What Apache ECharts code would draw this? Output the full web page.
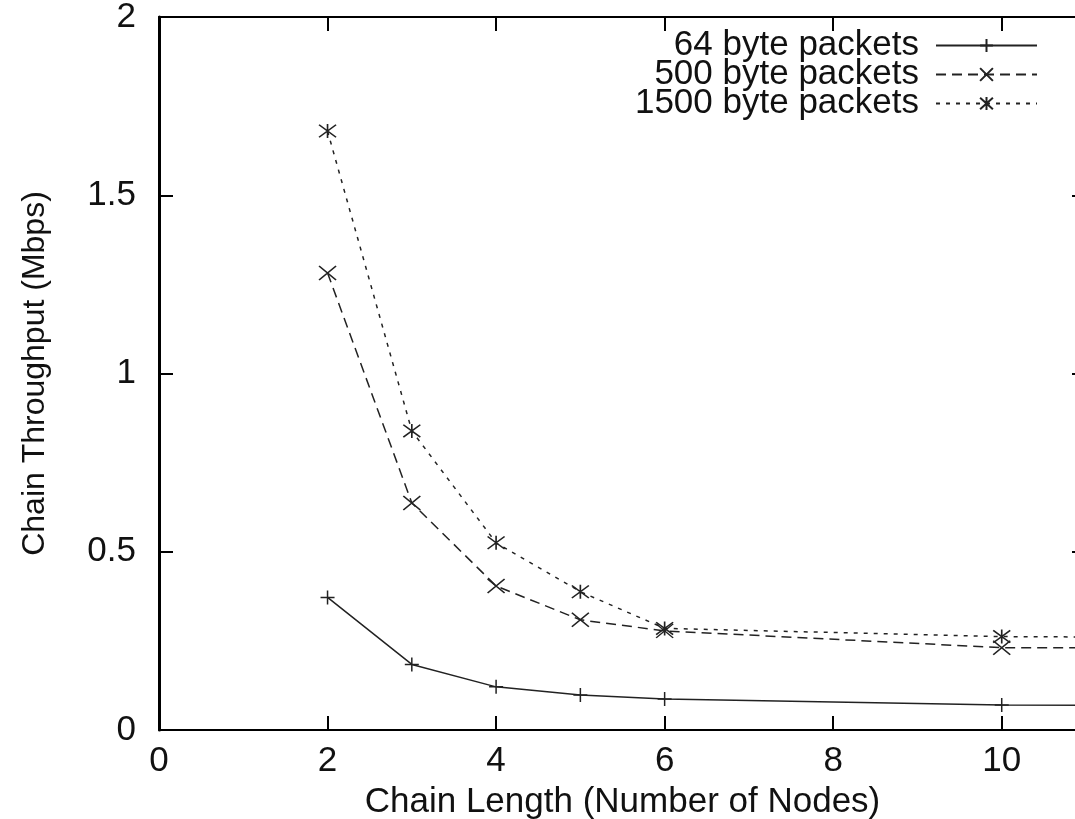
<!DOCTYPE html>
<html>
<head>
<meta charset="utf-8">
<title>Chain Throughput</title>
<script src="https://cdn.jsdelivr.net/npm/echarts@6/dist/echarts.min.js"></script>
<style>
  html, body { margin: 0; padding: 0; background: #fff; overflow: hidden; }
  /* the plot runs a little past the right edge of the window, as in the original */
  .frame { width: 1075px; height: 819px; overflow: hidden; position: relative; }
  #chart { width: 1086px; height: 819px; position: absolute; left: 0; top: 0; }
</style>
</head>
<body>
<div class="frame"><div id="chart"></div></div>
<script>
// chain length (number of nodes); the last point lies past the visible edge
const chainLength = [2, 3, 4, 5, 6, 10, 12]

const series64 = [0.372, 0.184, 0.121, 0.098, 0.087, 0.070, 0.069]
const series500 = [1.282, 0.637, 0.404, 0.309, 0.278, 0.231, 0.230]
const series1500 = [1.68, 0.839, 0.525, 0.388, 0.285, 0.262, 0.260]

const seriesNames = ['64 byte packets', '500 byte packets', '1500 byte packets']

const FONT = 'Liberation Sans'
const INK = '#222'

const plusSymbol = 'path://M5,0L5,10M0,5L10,5'
const crossSymbol = 'path://M0,0L10,8M0,8L10,0'
const starSymbol = 'path://M0,0L10,8M0,8L10,0M5,-0.5L5,8.5'

function pairs(values) {
  return chainLength.map((x, i) => [x, values[i]])
}

function makeSeries(name, values, symbol, size, dash, width) {
  return {
    name,
    type: 'line',
    data: pairs(values),
    clip: true,
    symbol,
    symbolSize: size,
    lineStyle: { color: INK, width, type: dash },
    itemStyle: { color: 'rgba(0,0,0,0)', borderColor: INK, borderWidth: 1.5 },
    emphasis: { disabled: true }
  }
}

const chart = echarts.init(document.getElementById('chart'))

const baseAxis = {
  type: 'value',
  axisLine: { show: true, onZero: false, lineStyle: { color: '#000', width: 2 } },
  axisTick: { show: true, inside: true, length: 14, lineStyle: { color: '#000', width: 2 } },
  splitLine: { show: false }
}

chart.setOption({
  animation: false,
  backgroundColor: '#fff',
  grid: { left: 159, right: 0, top: 17, bottom: 89, containLabel: false, outerBoundsMode: 'none' },
  legend: {
    orient: 'vertical',
    right: 43,
    top: 23,
    align: 'right',
    itemWidth: 101,
    itemHeight: 16,
    itemGap: -6,
    data: seriesNames,
    textStyle: { fontFamily: FONT, fontSize: 35, color: '#111', padding: [0, 12, 0, 0] }
  },
  xAxis: [
    Object.assign({}, baseAxis, {
      min: 0,
      max: 11,
      interval: 2,
      name: 'Chain Length (Number of Nodes)',
      nameLocation: 'middle',
      nameGap: 55,
      nameTextStyle: { fontFamily: FONT, fontSize: 35, color: '#111' },
      axisLabel: { fontFamily: FONT, fontSize: 35, color: '#111', margin: 14, showMaxLabel: false }
    }),
    Object.assign({}, baseAxis, {
      position: 'top',
      min: 0,
      max: 11,
      interval: 2,
      axisLabel: { show: false }
    })
  ],
  yAxis: [
    Object.assign({}, baseAxis, {
      min: 0,
      max: 2,
      interval: 0.5,
      name: 'Chain Throughput (Mbps)',
      nameLocation: 'middle',
      nameGap: 108,
      nameTextStyle: { fontFamily: FONT, fontSize: 32, color: '#111' },
      axisLine: { show: true, onZero: false, lineStyle: { color: '#000', width: 3 } },
      axisLabel: { fontFamily: FONT, fontSize: 35, color: '#111', margin: 23 }
    }),
    Object.assign({}, baseAxis, {
      position: 'right',
      min: 0,
      max: 2,
      interval: 0.5,
      axisLabel: { show: false }
    })
  ],
  series: [
    makeSeries(seriesNames[0], series64, plusSymbol, 14, 'solid', 1.5),
    makeSeries(seriesNames[1], series500, crossSymbol, [17, 14], [10, 6], 1.5),
    makeSeries(seriesNames[2], series1500, starSymbol, [17, 14], [4, 6], 1.5)
  ]
})
</script>
</body>
</html>
